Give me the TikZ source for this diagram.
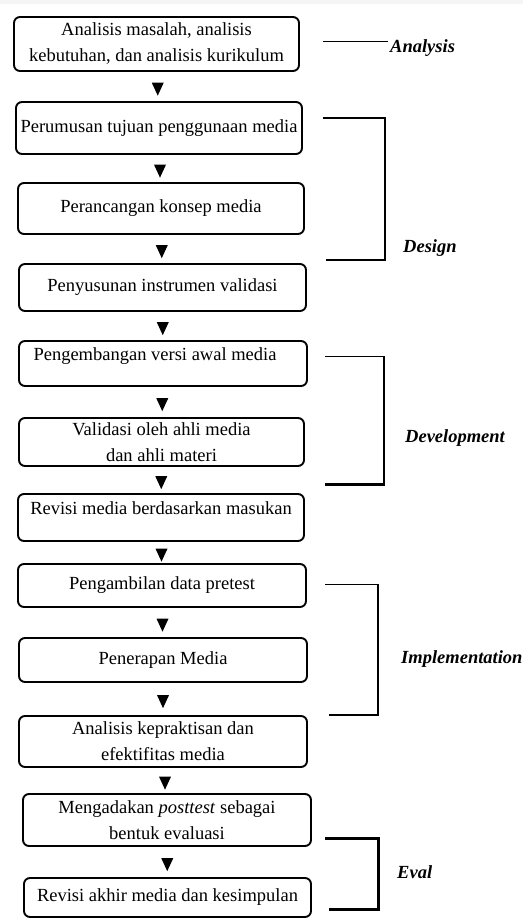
\documentclass[tikz,border=0pt]{standalone}
\usepackage{fontspec}
\setmainfont{Liberation Serif}
\usetikzlibrary{shapes.geometric}

\begin{document}
\begin{tikzpicture}[x=1pt,y=-1pt,
    box/.style={draw, line width=1.9pt, rounded corners=6pt, align=center, inner sep=0pt,
        minimum width=286pt, font=\fontsize{18.5}{26}\selectfont},
    tri/.style={isosceles triangle, isosceles triangle stretches, shape border rotate=-90,
        fill=black, inner sep=0pt, minimum width=12pt, minimum height=13pt},
    phase/.style={anchor=west, inner sep=0pt, font=\fontsize{18.5}{22}\selectfont\bfseries\itshape}]
    \useasboundingbox (0,0) rectangle (523,920);
    \fill[gray!8] (0,0) rectangle (523,4);

    % langkah-langkah
    \node[box, minimum width=285pt, minimum height=54pt] (anl) at (156.5,44) {Analisis masalah, analisis\\ kebutuhan, dan analisis kurikulum};
    \node[box, minimum height=52pt] (tuj) at (159,128) {Perumusan tujuan penggunaan media};
    \node[box, minimum height=51pt] (kon) at (161,208.5) {Perancangan konsep media};
    \node[box, minimum width=287pt, minimum height=47pt] (ins) at (162.5,287.5) {Penyusunan instrumen validasi};
    \node[box, minimum width=288pt, minimum height=45pt, text depth=18pt] (awl) at (163,363.5) {Pengembangan versi awal media\hspace*{16pt}};
    \node[box, minimum width=285pt, minimum height=48pt] (val) at (161.5,442) {Validasi oleh ahli media\\ dan ahli materi};
    \node[box, minimum height=47pt, text depth=18pt] (rev) at (161,517.5) {Revisi media berdasarkan masukan};
    \node[box, minimum width=288pt, minimum height=43pt] (pre) at (162,585.5) {Pengambilan data pretest};
    \node[box, minimum width=288pt, minimum height=44pt] (pen) at (163,660) {Penerapan Media};
    \node[box, minimum width=288pt, minimum height=51pt] (efk) at (163,741.5) {Analisis kepraktisan dan\\ efektifitas media};
    \node[box, minimum width=288pt, minimum height=52pt] (pos) at (167,820) {Mengadakan \textit{posttest} sebagai\\ bentuk evaluasi};
    \node[box, minimum width=287pt, minimum height=39pt] (akh) at (167.5,897.5) {Revisi akhir media dan kesimpulan};

    % panah
    \foreach \a/\b in {anl/tuj, tuj/kon, kon/ins, ins/awl, awl/val, val/rev, rev/pre, pre/pen, pen/efk, efk/pos, pos/akh}
        \path (\a.south) -- (\b.north) node[midway, tri] (arr-\a) {};

    % tahap ADDIE
    \draw[line width=1.5pt] (323,41.5) -- (388,41.5);
    \draw (390,48) node[phase] (lblA) {Analysis};

    \draw[line width=2pt] (323,118) -- (385,118) -- (385,260) -- (326,260);
    \draw (403,248) node[phase] (lblD) {Design};

    \draw[line width=1pt] (325,356) -- (384,356);
    \draw[line width=2pt] (384,356) -- (384,484);
    \draw[line width=3pt] (325,484) -- (385,484);
    \draw (405,438) node[phase] (lblDev) {Development};

    \draw[line width=1pt] (325,584.5) -- (378,584.5);
    \draw[line width=2pt] (378,584) -- (378,715);
    \draw[line width=2.5pt] (329,715) -- (379,715);
    \draw (401,659) node[phase] (lblI) {Implementation};

    \draw[line width=3pt] (325,838) -- (378,838) -- (378,909) -- (329,909);
    \draw (397,872) node[phase] (lblE) {Eval};
\end{tikzpicture}
\end{document}
